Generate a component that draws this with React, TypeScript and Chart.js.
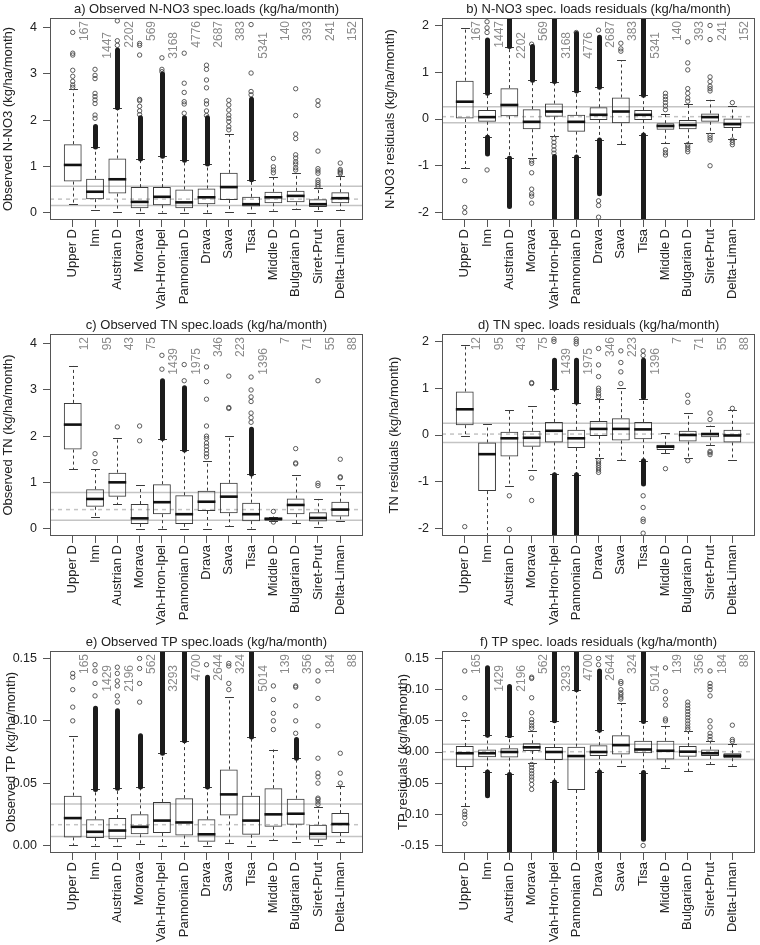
import React, { useEffect, useRef } from "react";
import { Chart, registerables } from "chart.js";

Chart.register(...registerables);

const FONT = "'Liberation Sans', Arial, sans-serif";
Chart.defaults.font.family = FONT;

const categories = [
  "Upper D", "Inn", "Austrian D", "Morava", "Vah-Hron-Ipel", "Pannonian D", "Drava",
  "Sava", "Tisa", "Middle D", "Bulgarian D", "Siret-Prut", "Delta-Liman",
];

const countsNO3 = ["167", "1447", "2202", "569", "3168", "4776", "2687", "383", "5341", "140", "393", "241", "152"];
const countsTN = ["12", "95", "43", "75", "1439", "1975", "346", "223", "1396", "7", "71", "55", "88"];
const countsTP = ["165", "1429", "2196", "562", "3293", "4700", "2644", "324", "5014", "139", "356", "184", "88"];

const ticksObs = ["0", "1", "2", "3", "4"];
const ticksRes = ["-2", "-1", "0", "1", "2"];
const ticksObsTP = ["0.00", "0.05", "0.10", "0.15"];
const ticksResTP = ["-0.15", "-0.10", "-0.05", "0.00", "0.05", "0.10", "0.15"];

// ---- a) Observed N-NO3 ----
const aQ1 = [0.67, 0.29, 0.41, 0.09, 0.16, 0.09, 0.18, 0.27, 0.13, 0.2, 0.22, 0.12, 0.2];
const aMed = [1.03, 0.45, 0.72, 0.23, 0.34, 0.22, 0.33, 0.55, 0.18, 0.33, 0.36, 0.18, 0.31];
const aQ3 = [1.48, 0.73, 1.17, 0.55, 0.55, 0.5, 0.52, 0.86, 0.34, 0.45, 0.47, 0.29, 0.44];
const aLo = [0.18, 0.05, 0.02, 0.0, 0.0, 0.0, 0.0, 0.02, 0.0, 0.04, 0.08, 0.03, 0.05];
const aHi = [2.67, 1.42, 2.27, 1.16, 1.22, 1.13, 1.05, 1.7, 0.71, 0.76, 0.85, 0.53, 0.79];
const aOut = [
  [3.9, 3.45, 3.41, 3.08, 2.95, 2.84, 2.76, 2.71],
  [3.1, 2.97, 2.9, 2.58, 2.51, 2.44, 2.36, 2.11, 2.04],
  [4.15, 3.72, 3.62],
  [3.66, 3.62, 3.41, 2.45, 2.42, 2.3, 2.2, 2.12],
  [3.35, 3.1, 3.05],
  [3.45, 2.8, 2.6, 2.4, 2.35, 2.15],
  [3.19, 3.1, 2.87, 2.7, 2.42, 2.35, 2.2, 2.1],
  [2.43, 2.33, 2.22, 2.11, 2.04, 1.97, 1.86, 1.79],
  [4.07, 3.02, 2.62, 2.55],
  [1.17, 0.99, 0.92, 0.86],
  [2.68, 2.1, 1.7, 1.6, 1.25, 1.18, 1.1, 1.05, 0.97, 0.92],
  [2.42, 2.32, 1.33, 0.95, 0.9, 0.85, 0.7, 0.65, 0.6, 0.56],
  [1.07, 0.93, 0.9, 0.87, 0.84],
];
const aDense = [
  [], [[1.42, 1.86]], [[2.27, 3.52]], [[1.16, 2.05]], [[1.22, 3.0]], [[1.13, 2.05]],
  [[1.05, 2.05]], [], [[0.71, 2.45]], [], [], [], [],
];
const aRef = [0.57, 0.29, 0.15];

// ---- b) N-NO3 residuals ----
const bQ1 = [0.0, -0.06, 0.06, -0.22, 0.05, -0.27, -0.02, -0.09, -0.02, -0.23, -0.22, -0.06, -0.19];
const bMed = [0.37, 0.04, 0.3, -0.06, 0.16, -0.06, 0.09, 0.16, 0.09, -0.15, -0.13, 0.04, -0.11];
const bQ3 = [0.82, 0.19, 0.66, 0.21, 0.33, 0.09, 0.25, 0.46, 0.19, -0.09, -0.02, 0.12, 0.01];
const bLo = [-1.05, -0.39, -0.84, -0.83, -0.37, -0.81, -0.45, -0.54, -0.34, -0.52, -0.51, -0.31, -0.43];
const bHi = [1.94, 0.55, 1.55, 0.83, 0.8, 0.6, 0.68, 1.26, 0.51, 0.1, 0.33, 0.41, 0.28];
const bOut = [
  [-1.32, -1.89, -2.0],
  [2.08, 1.95, 1.85, -1.09],
  [],
  [1.6, -0.9, -0.95, -1.15, -1.5, -1.6, -1.65, -1.8],
  [-0.42, -0.5, -0.58, -0.66, -0.73],
  [1.85],
  [1.9, -1.75, -1.85, -2.1],
  [1.45, 1.5, 1.62],
  [],
  [0.2, 0.28, 0.35, 0.42, 0.48, 0.55, -0.66, -0.72, -0.77],
  [0.38, 0.45, 0.55, 0.65, 1.05, 1.2, 1.65, -0.55, -0.6, -0.65, -0.7],
  [0.6, 0.65, 0.7, 0.8, 0.9, 1.7, 2.0, -0.35, -0.4, -0.45, -1.0],
  [0.35, -0.45, -0.5, -0.55],
];
const bDense = [
  [], [[0.55, 1.69], [-0.39, -0.75]], [[1.55, 2.2], [-0.84, -1.87]], [[0.83, 1.55]],
  [[0.8, 2.2], [-0.8, -2.2]], [[0.6, 1.83], [-0.81, -2.2]], [[0.68, 1.75], [-0.45, -1.6]],
  [], [[0.51, 2.2], [-0.34, -2.2]], [], [], [], [],
];
const bRef = [0.26, 0.05, -0.08];

// ---- c) Observed TN ----
const cQ1 = [1.71, 0.47, 0.69, 0.1, 0.31, 0.1, 0.38, 0.33, 0.16, 0.17, 0.31, 0.15, 0.26];
const cMed = [2.25, 0.64, 1.0, 0.22, 0.57, 0.31, 0.58, 0.69, 0.31, 0.21, 0.51, 0.23, 0.41];
const cQ3 = [2.72, 0.85, 1.21, 0.53, 0.96, 0.72, 0.82, 0.99, 0.56, 0.24, 0.65, 0.35, 0.58];
const cLo = [1.28, 0.26, 0.53, 0.0, 0.0, 0.0, 0.0, 0.05, 0.0, 0.17, 0.11, 0.04, 0.17];
const cHi = [3.52, 1.28, 1.97, 0.94, 1.93, 1.7, 1.46, 2.0, 1.18, 0.26, 1.16, 0.64, 0.94];
const cOut = [
  [], [1.45, 1.62], [2.2], [1.9, 2.22], [3.45, 3.75], [3.2, 3.55],
  [1.55, 1.62, 1.7, 1.78, 1.85, 1.95, 2.0, 2.22, 2.8, 3.18, 3.5],
  [2.6, 2.62, 3.3], [2.3, 2.4, 2.5, 2.75, 2.85, 3.0, 3.28], [0.37, 0.14],
  [1.4, 1.42, 1.73], [0.93, 0.98, 3.2], [1.1, 1.12, 1.5],
];
const cDense = [[], [], [], [], [[1.95, 3.2]], [[1.7, 3.05]], [], [], [[1.18, 2.15]], [], [], [], []];
const cRef = [0.78, 0.41, 0.18];

// ---- d) TN residuals ----
const dQ1 = [0.21, -1.2, -0.46, -0.25, -0.16, -0.28, -0.02, -0.12, -0.09, -0.32, -0.14, -0.05, -0.16];
const dMed = [0.55, -0.41, -0.07, -0.06, 0.09, -0.07, 0.13, 0.13, 0.12, -0.25, 0.0, 0.02, -0.01];
const dQ3 = [0.93, -0.16, 0.07, 0.09, 0.28, 0.11, 0.3, 0.36, 0.28, -0.21, 0.09, 0.05, 0.11];
const dLo = [-0.02, -2.3, -1.1, -0.75, -0.83, -0.85, -0.5, -0.53, -0.55, -0.39, -0.5, -0.21, -0.53];
const dHi = [1.92, 0.23, 0.53, 0.61, 0.98, 0.68, 0.76, 1.0, 0.78, 0.04, 0.46, 0.2, 0.53];
const dOut = [
  [-1.96], [], [-1.3, -2.02], [1.1, 1.12, -0.92, -1.4], [2.0, 2.05], [1.95, 2.0, 2.05],
  [0.82, 0.88, 0.95, 1.0, 1.25, 1.5, 1.85, -0.55, -0.6, -0.65, -0.7, -0.75, -0.8],
  [1.1, 1.35, 1.55, 1.8], [1.7, 1.8, -1.3, -1.55, -1.8, -1.85, -2.1], [-0.72],
  [0.7, 0.85, -0.55], [0.33, 0.47, -0.35, -0.38, -0.42], [0.57],
];
const dDense = [
  [], [], [], [], [[1.0, 1.6], [-0.85, -2.2]], [[0.7, 1.6], [-0.85, -2.2]], [], [],
  [[0.8, 1.6], [-0.55, -1.05]], [], [], [], [],
];
const dRef = [0.25, 0.02, -0.16];

// ---- e) Observed TP ----
const eQ1 = [0.0065, 0.006, 0.005, 0.009, 0.01, 0.008, 0.003, 0.024, 0.0086, 0.015, 0.0167, 0.0046, 0.01];
const eMed = [0.022, 0.011, 0.012, 0.015, 0.02, 0.0185, 0.009, 0.041, 0.02, 0.025, 0.0255, 0.0094, 0.0172];
const eQ3 = [0.04, 0.021, 0.022, 0.025, 0.035, 0.038, 0.021, 0.061, 0.04, 0.046, 0.0376, 0.0167, 0.026];
const eLo = [0.0005, 0, 0, 0.001, 0, 0, 0, 0.002, 0, 0.0046, 0.003, 0.0005, 0.003];
const eHi = [0.088, 0.045, 0.046, 0.047, 0.074, 0.084, 0.047, 0.119, 0.087, 0.077, 0.07, 0.0306, 0.0476];
const eOut = [
  [0.1, 0.111, 0.125, 0.135, 0.138], [0.12, 0.13, 0.14, 0.145, 0.16],
  [0.115, 0.12, 0.128, 0.132, 0.138, 0.143], [0.115, 0.13, 0.142, 0.15], [], [], [0.145],
  [0.125, 0.13, 0.144, 0.146], [], [0.093, 0.1, 0.106, 0.117, 0.128],
  [0.09, 0.1, 0.112, 0.127, 0.128],
  [0.033, 0.035, 0.037, 0.038, 0.05, 0.055, 0.058, 0.07, 0.096, 0.118, 0.132, 0.14],
  [0.05, 0.058, 0.074],
];
const eDense = [
  [], [[0.045, 0.11]], [[0.046, 0.108]], [[0.047, 0.088]], [[0.074, 0.16]], [[0.084, 0.16]],
  [[0.047, 0.135]], [], [[0.087, 0.16]], [], [[0.07, 0.085]], [], [],
];
const eRef = [0.0333, 0.0167, 0.0073];

// ---- f) TP residuals ----
const fQ1 = [-0.024, -0.0086, -0.009, 0.0016, -0.013, -0.061, -0.0065, -0.004, -0.002, -0.012, -0.0075, -0.0065, -0.01];
const fMed = [-0.002, -0.002, 0, 0.0075, 0.0, -0.0065, 0, 0.011, 0.004, 0.002, 0.0005, -0.002, -0.006];
const fQ3 = [0.0097, 0.004, 0.006, 0.014, 0.008, 0.0086, 0.011, 0.027, 0.018, 0.018, 0.0097, 0.004, -0.002];
const fLo = [-0.087, -0.032, -0.036, -0.018, -0.048, -0.17, -0.032, -0.022, -0.033, -0.025, -0.031, -0.019, -0.022];
const fHi = [0.052, 0.027, 0.026, 0.033, 0.05, 0.1, 0.035, 0.078, 0.049, 0.042, 0.033, 0.018, 0.013];
const fOut = [
  [0.06, 0.087, 0.13, -0.095, -0.1, -0.105, -0.115],
  [], [],
  [0.038, 0.042, 0.047, 0.052, 0.063, 0.087, 0.118, 0.12, -0.02, -0.025, -0.03, -0.035, -0.04, -0.045, -0.052, -0.06],
  [], [], [0.14, 0.15],
  [0.085, 0.088, 0.092, 0.095, 0.1, 0.11, 0.113],
  [-0.15],
  [0.05, 0.053, 0.075, 0.085, 0.097, 0.135],
  [0.036, 0.04, 0.045, 0.05, 0.055, 0.06, 0.065, 0.07, 0.075, 0.08],
  [0.02, 0.025, 0.03, 0.04, 0.05, 0.09, 0.1, 0.105, 0.11, 0.13],
  [0.017, 0.02, 0.043],
];
const fDense = [
  [], [[0.027, 0.135], [-0.032, -0.07]], [[0.026, 0.105], [-0.036, -0.16]], [],
  [[0.05, 0.16], [-0.048, -0.16]], [[0.1, 0.16]], [[0.035, 0.13], [-0.032, -0.16]], [],
  [[0.049, 0.17], [-0.033, -0.14]], [], [], [], [],
];
const fRef = [0.0124, 0.0005, -0.012];

type Panel = {
  title: string;
  yTitle: string;
  q1: number[]; med: number[]; q3: number[]; lo: number[]; hi: number[];
  out: number[][]; dense: number[][][]; ref: number[];
  counts: string[]; countLow: number[];
  yMin: number; yMax: number; yTicks: string[];
  side: "L" | "R"; yTitleX: number;
  left: number; top: number;
};

const panels: Panel[] = [
  {
    title: "a) Observed N-NO3 spec.loads (kg/ha/month)", yTitle: "Observed N-NO3 (kg/ha/month)",
    q1: aQ1, med: aMed, q3: aQ3, lo: aLo, hi: aHi, out: aOut, dense: aDense, ref: aRef,
    counts: countsNO3, countLow: [0, 1, 0, 0, 1, 0, 0, 0, 1, 0, 0, 0, 0],
    yMin: -0.162, yMax: 4.212, yTicks: ticksObs, side: "L", yTitleX: 8, left: 0, top: 0,
  },
  {
    title: "b) N-NO3 spec. loads residuals (kg/ha/month)", yTitle: "N-NO3 residuals (kg/ha/month)",
    q1: bQ1, med: bMed, q3: bQ3, lo: bLo, hi: bHi, out: bOut, dense: bDense, ref: bRef,
    counts: countsNO3, countLow: [0, 0, 1, 0, 1, 1, 0, 0, 1, 0, 0, 0, 0],
    yMin: -2.16, yMax: 2.16, yTicks: ticksRes, side: "R", yTitleX: 10, left: 380, top: 0,
  },
  {
    title: "c) Observed TN spec.loads (kg/ha/month)", yTitle: "Observed TN (kg/ha/month)",
    q1: cQ1, med: cMed, q3: cQ3, lo: cLo, hi: cHi, out: cOut, dense: cDense, ref: cRef,
    counts: countsTN, countLow: [0, 0, 0, 0, 1, 1, 0, 0, 1, 0, 0, 0, 0],
    yMin: -0.162, yMax: 4.212, yTicks: ticksObs, side: "L", yTitleX: 8, left: 0, top: 316,
  },
  {
    title: "d) TN spec. loads residuals (kg/ha/month)", yTitle: "TN residuals (kg/ha/month)",
    q1: dQ1, med: dMed, q3: dQ3, lo: dLo, hi: dHi, out: dOut, dense: dDense, ref: dRef,
    counts: countsTN, countLow: [0, 0, 0, 0, 1, 1, 0, 0, 1, 0, 0, 0, 0],
    yMin: -2.16, yMax: 2.16, yTicks: ticksRes, side: "R", yTitleX: 14, left: 380, top: 316,
  },
  {
    title: "e) Observed TP spec.loads (kg/ha/month)", yTitle: "Observed TP (kg/ha/month)",
    q1: eQ1, med: eMed, q3: eQ3, lo: eLo, hi: eHi, out: eOut, dense: eDense, ref: eRef,
    counts: countsTP, countLow: [0, 1, 1, 0, 1, 0, 0, 0, 1, 0, 0, 0, 0],
    yMin: -0.006, yMax: 0.156, yTicks: ticksObsTP, side: "L", yTitleX: 11, left: 0, top: 633,
  },
  {
    title: "f) TP spec. loads residuals (kg/ha/month)", yTitle: "TP residuals (kg/ha/month)",
    q1: fQ1, med: fMed, q3: fQ3, lo: fLo, hi: fHi, out: fOut, dense: fDense, ref: fRef,
    counts: countsTP, countLow: [0, 1, 1, 0, 1, 0, 0, 0, 1, 0, 0, 0, 0],
    yMin: -0.162, yMax: 0.162, yTicks: ticksResTP, side: "R", yTitleX: 23, left: 380, top: 633,
  },
];

const FRAME = "#555";
const BOXC = "#3a3a3a";
const REFC = "#c4c4c4";

function makePlugin(p: Panel) {
  return {
    id: "boxExtras",
    beforeDatasetsDraw(chart: any) {
      const { ctx, chartArea: ca, scales } = chart;
      const xs = scales.x, ys = scales.y;
      const unit = xs.getPixelForValue(2) - xs.getPixelForValue(1);
      ctx.save();
      ctx.beginPath();
      ctx.rect(ca.left, ca.top, ca.right - ca.left, ca.bottom - ca.top);
      ctx.clip();
      p.ref.forEach((v, k) => {
        const y = ys.getPixelForValue(v);
        ctx.strokeStyle = REFC;
        ctx.lineWidth = 1.5;
        ctx.setLineDash(k === 1 ? [4, 4] : []);
        ctx.beginPath();
        ctx.moveTo(ca.left, y);
        ctx.lineTo(ca.right, y);
        ctx.stroke();
      });
      ctx.strokeStyle = BOXC;
      ctx.lineWidth = 1;
      categories.forEach((_, i) => {
        const x = Math.round(xs.getPixelForValue(i + 1)) + 0.5;
        ctx.setLineDash([3, 3]);
        ctx.beginPath();
        ctx.moveTo(x, ys.getPixelForValue(p.q3[i]));
        ctx.lineTo(x, ys.getPixelForValue(p.hi[i]));
        ctx.moveTo(x, ys.getPixelForValue(p.q1[i]));
        ctx.lineTo(x, ys.getPixelForValue(p.lo[i]));
        ctx.stroke();
        ctx.setLineDash([]);
        const hw = unit * 0.2;
        ctx.beginPath();
        [p.hi[i], p.lo[i]].forEach((v) => {
          const y = Math.round(ys.getPixelForValue(v)) + 0.5;
          ctx.moveTo(x - hw, y);
          ctx.lineTo(x + hw, y);
        });
        ctx.stroke();
      });
      ctx.restore();
    },
    afterDatasetsDraw(chart: any) {
      const { ctx, chartArea: ca, scales } = chart;
      const xs = scales.x, ys = scales.y;
      const unit = xs.getPixelForValue(2) - xs.getPixelForValue(1);
      ctx.save();
      ctx.beginPath();
      ctx.rect(ca.left, ca.top, ca.right - ca.left, ca.bottom - ca.top);
      ctx.clip();
      ctx.strokeStyle = "#1c1c1c";
      ctx.lineWidth = 5;
      ctx.lineCap = "round";
      p.dense.forEach((runs, i) => {
        const x = Math.round(xs.getPixelForValue(i + 1)) + 0.5;
        runs.forEach(([a, b]) => {
          ctx.beginPath();
          ctx.moveTo(x, ys.getPixelForValue(a));
          ctx.lineTo(x, ys.getPixelForValue(b));
          ctx.stroke();
        });
      });
      ctx.lineCap = "butt";
      ctx.strokeStyle = "#111";
      ctx.lineWidth = 2.6;
      p.med.forEach((v, i) => {
        const x = xs.getPixelForValue(i + 1);
        const y = ys.getPixelForValue(v);
        ctx.beginPath();
        ctx.moveTo(x - unit * 0.4, y);
        ctx.lineTo(x + unit * 0.4, y);
        ctx.stroke();
      });
      ctx.restore();

      ctx.save();
      ctx.fillStyle = "#8a8a8a";
      ctx.font = `12px ${FONT}`;
      ctx.textAlign = "right";
      ctx.textBaseline = "middle";
      p.counts.forEach((c, i) => {
        const x = xs.getPixelForValue(i + 1.55);
        const y = ca.top + 3 + (p.countLow[i] ? 11 : 0);
        ctx.save();
        ctx.translate(x, y);
        ctx.rotate(-Math.PI / 2);
        ctx.fillText(c, 0, 0);
        ctx.restore();
      });
      ctx.restore();

      ctx.save();
      ctx.strokeStyle = FRAME;
      ctx.lineWidth = 1;
      ctx.strokeRect(Math.round(ca.left) + 0.5, Math.round(ca.top) + 0.5,
        Math.round(ca.right - ca.left) - 1, Math.round(ca.bottom - ca.top) - 1);
      ctx.fillStyle = "#222";
      ctx.font = `13px ${FONT}`;
      ctx.textAlign = "center";
      ctx.textBaseline = "middle";
      ctx.fillText(p.title, (ca.left + ca.right) / 2, ca.top - 9);
      ctx.translate(p.yTitleX, (ca.top + ca.bottom) / 2);
      ctx.rotate(-Math.PI / 2);
      ctx.fillText(p.yTitle, 0, 0);
      ctx.restore();
    },
  };
}

function PanelChart({ p }: { p: Panel }) {
  const ref = useRef<HTMLCanvasElement>(null);
  useEffect(() => {
    const canvas = ref.current;
    if (!canvas) return;
    const xs = categories.map((_, i) => i + 1);
    const boxData = xs.map((x, i) => ({ x, y: [p.q1[i], p.q3[i]] }));
    const outData: { x: number; y: number }[] = [];
    p.out.forEach((arr, i) => arr.forEach((v) => outData.push({ x: i + 1, y: v })));
    const chart = new Chart(canvas, {
      type: "bar",
      data: {
        datasets: [
          {
            type: "scatter",
            data: outData,
            pointRadius: 2.2,
            pointBorderWidth: 0.9,
            borderColor: "#4a4a4a",
            backgroundColor: "rgba(0,0,0,0)",
            clip: 0,
            order: 0,
          } as any,
          {
            type: "bar",
            data: boxData,
            backgroundColor: "rgba(255,255,255,0)",
            borderColor: BOXC,
            borderWidth: 1,
            borderSkipped: false,
            barPercentage: 0.8,
            categoryPercentage: 1,
            order: 1,
          } as any,
        ],
      },
      options: {
        animation: false,
        responsive: false,
        maintainAspectRatio: false,
        events: [],
        layout: { padding: { left: 0, right: p.side === "L" ? 17 : 0, top: 18, bottom: 0 } },
        plugins: { legend: { display: false }, tooltip: { enabled: false }, title: { display: false } },
        scales: {
          x: {
            type: "linear",
            min: -0.02,
            max: 14.02,
            offset: false,
            afterFit: (s: any) => { s.height = 92; },
            afterBuildTicks: (s: any) => { s.ticks = xs.map((v) => ({ value: v })); },
            ticks: {
              autoSkip: false,
              minRotation: 90,
              maxRotation: 90,
              padding: 2,
              color: "#222",
              font: { family: FONT, size: 13 },
              callback: (v: any) => categories[Math.round(Number(v)) - 1],
            },
            grid: { drawOnChartArea: false, drawTicks: true, tickLength: 7, color: FRAME, offset: false },
            border: { display: false },
          },
          y: {
            type: "linear",
            min: p.yMin,
            max: p.yMax,
            afterFit: (s: any) => { s.width = p.side === "L" ? 50 : 62; },
            afterBuildTicks: (s: any) => { s.ticks = p.yTicks.map((t) => ({ value: Number(t) })); },
            ticks: {
              padding: 6,
              color: "#222",
              font: { family: FONT, size: 12.5 },
              callback: (_v: any, i: number) => p.yTicks[i],
            },
            grid: { drawOnChartArea: false, drawTicks: true, tickLength: 7, color: FRAME },
            border: { display: false },
          },
        },
      } as any,
      plugins: [makePlugin(p)],
    });
    return () => chart.destroy();
  }, [p]);
  return (
    <canvas
      ref={ref}
      width={380}
      height={312}
      style={{ position: "absolute", left: p.left, top: p.top, width: 380, height: 312 }}
    />
  );
}

export default function App() {
  return (
    <div style={{ position: "absolute", left: 0, top: 0, width: 760, height: 945, background: "#fff" }}>
      {panels.map((p, i) => (
        <PanelChart key={i} p={p} />
      ))}
    </div>
  );
}
